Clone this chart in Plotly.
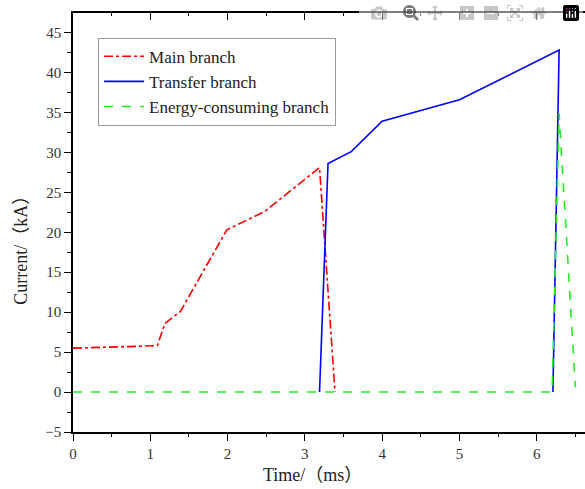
import plotly.graph_objects as go

# Data
main_t = [0, 1.09, 1.19, 1.39, 1.99, 2.48, 3.19, 3.39]
main_i = [5.5, 5.8, 8.6, 10.1, 20.3, 22.6, 28.1, 0]

transfer_t = [3.19, 3.3, 3.6, 4.0, 5.0, 6.29, 6.21]
transfer_i = [0, 28.6, 30.1, 33.9, 36.6, 42.8, 0]

energy_t = [0, 6.2, 6.29, 6.5]
energy_i = [0, 0, 34.9, 0.6]

x_ticks = [0, 1, 2, 3, 4, 5, 6]
y_ticks = [-5, 0, 5, 10, 15, 20, 25, 30, 35, 40, 45]

X_RANGE = [0, 6.625]
Y_RANGE = [-5, 47.45]

serif = "Liberation Serif, Times New Roman, Noto Sans CJK SC, serif"

fig = go.Figure()
fig.add_trace(go.Scatter(x=main_t, y=main_i, mode="lines", name="Main branch",
                         line=dict(color="#ff0000", width=1.6, dash="dashdot")))
fig.add_trace(go.Scatter(x=transfer_t, y=transfer_i, mode="lines", name="Transfer branch",
                         line=dict(color="#0000ff", width=1.6)))
fig.add_trace(go.Scatter(x=energy_t, y=energy_i, mode="lines", name="Energy-consuming branch",
                         line=dict(color="#22ee22", width=1.6, dash="dash")))
# invisible trace for the mirrored top axis
fig.add_trace(go.Scatter(x=[0], y=[None], xaxis="x2", showlegend=False,
                         hoverinfo="skip", mode="lines"))

fig.update_layout(
    width=585, height=489,
    margin=dict(l=73, r=0, t=13, b=57, autoexpand=False),
    plot_bgcolor="white", paper_bgcolor="white",
    font=dict(family=serif, color="#222222", size=14),
    showlegend=True,
    legend=dict(x=0.049, y=0.941, xanchor="left", yanchor="top",
                bgcolor="white", bordercolor="#999999", borderwidth=1,
                font=dict(family=serif, size=17, color="#222222"),
                tracegroupgap=0, itemwidth=40),
    xaxis=dict(range=X_RANGE, tickvals=x_ticks, showgrid=False, zeroline=False,
               automargin=False,
               showline=True, linecolor="black", linewidth=1.5,
               ticks="outside", ticklen=7, tickwidth=1.3, tickcolor="black",
               minor=dict(dtick=0.5, ticks="outside", ticklen=3, tickwidth=1.3, tickcolor="black"),
               tickfont=dict(family=serif, size=15, color="#333333")),
    xaxis2=dict(range=X_RANGE, overlaying="x", side="top", showticklabels=False,
                automargin=False,
                tickvals=x_ticks, showgrid=False, zeroline=False,
                showline=True, linecolor="black", linewidth=1.5,
                ticks="inside", ticklen=7, tickwidth=1.3, tickcolor="black",
                minor=dict(dtick=0.5, ticks="inside", ticklen=3, tickwidth=1.3, tickcolor="black")),
    yaxis=dict(range=Y_RANGE, tickvals=y_ticks, showgrid=False, zeroline=False,
               automargin=False,
               showline=True, linecolor="black", linewidth=1.5,
               ticks="outside", ticklen=7, tickwidth=1.3, tickcolor="black",
               minor=dict(dtick=2.5, ticks="outside", ticklen=4, tickwidth=1.3, tickcolor="black"),
               tickfont=dict(family=serif, size=15, color="#333333")),
    annotations=[
        dict(text="Time/（ms）", xref="paper", yref="paper", x=0.467, y=-0.102,
             xanchor="center", yanchor="middle", showarrow=False,
             font=dict(family=serif, size=18, color="#222222")),
        dict(text="Current/（kA）", xref="paper", yref="paper", x=-0.103, y=0.445,
             xanchor="center", yanchor="middle", textangle=-90, showarrow=False,
             font=dict(family=serif, size=18, color="#222222")),
    ],
)

# pin the figure to the top-left corner of the page (no 8px body margin offset)
fig.write_html(
    "out.html",
    post_script=(
        "var d=document.getElementById('{plot_id}');"
        "d.style.position='absolute';d.style.left='0px';d.style.top='0px';"
    ),
)
